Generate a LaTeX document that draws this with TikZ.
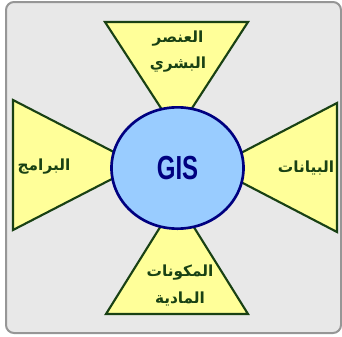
\documentclass[tikz,border=0pt]{standalone}
\usepackage{fontspec}
\usepackage{xcolor}
\usepackage{tikz}
\usetikzlibrary{shapes.geometric}
\TeXXeTstate=1
\newfontfamily\arabicfont[Script=Arabic]{DejaVu Sans}
\newfontfamily\gisfont{Liberation Sans}
\definecolor{PanelGray}{RGB}{232,232,232}
\definecolor{PanelEdge}{RGB}{150,150,150}
\definecolor{WedgeYellow}{RGB}{255,255,153}
\definecolor{WedgeGreen}{RGB}{25,65,20}
\definecolor{HubBlue}{RGB}{153,204,255}
\definecolor{HubNavy}{RGB}{0,0,128}

\begin{document}
\begin{tikzpicture}[
x=0.75pt,y=-0.75pt,
wedge/.style={
draw=WedgeGreen,
fill=WedgeYellow,
line width=1.6pt,
line join=miter
},
hub/.style={
ellipse,
draw=HubNavy,
fill=HubBlue,
line width=2pt,
minimum width=99pt,
minimum height=91pt,
inner sep=0pt
},
label/.style={
text=WedgeGreen,
align=center,
font=\arabicfont\bfseries\fontsize{11.5}{20}\selectfont
}
]

\useasboundingbox (0,0) rectangle (342,336);
\draw[draw=PanelEdge,fill=PanelGray,line width=1.5pt,rounded corners=6pt] (6,2) rectangle (341,333);

\draw[wedge] (105,22) -- (248,22) -- (176.5,132) -- cycle;
\draw[wedge] (106,314) -- (248,314) -- (177,200) -- cycle;
\draw[wedge] (13,100) -- (13,230) -- (139,165) -- cycle;
\draw[wedge] (337,103) -- (337,232) -- (213,167.5) -- cycle;

\node[hub] (gis) at (177.5,168) {};
\node[text=HubNavy,font=\gisfont\bfseries\fontsize{25}{30}\selectfont,xscale=0.72] (gistext) at (gis.center) {GIS};

\node[label] (human) at (178,51.5) {\beginR العنصر\endR\\\beginR البشري\endR};
\node[label] (hardware) at (180,285.5) {\beginR المكونات\endR\\\beginR المادية\endR};
\node[label] (software) at (44,167) {\beginR البرامج\endR};
\node[label] (data) at (306,168) {\beginR البيانات\endR};

\end{tikzpicture}
\end{document}
